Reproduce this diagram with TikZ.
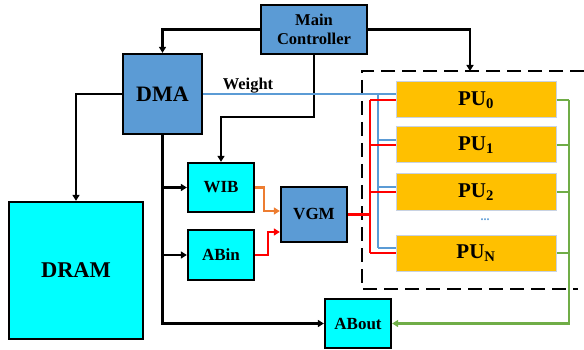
\documentclass[tikz,border=0pt]{standalone}
\usepackage{fontspec}
\setmainfont{Liberation Serif}
\usepackage{tikz}
\usetikzlibrary{calc,arrows.meta}
\definecolor{blockblue}{HTML}{5B9BD5}
\definecolor{bufcyan}{HTML}{00FFFF}
\definecolor{puorange}{HTML}{FFC000}
\definecolor{puedge}{HTML}{C8D2E2}
\definecolor{wirered}{HTML}{FF0000}
\definecolor{wiregreen}{HTML}{70AD47}
\definecolor{wireorange}{HTML}{ED7D31}

\tikzset{
	block/.style={draw, line width=2.3pt, inner sep=0pt, align=center, font=\bfseries},
	wire/.style={line width=2.5pt, -{Triangle[length=6pt,width=7pt]}},
	bus/.style={line width=2.4pt},
	pubox/.style={draw=puedge, line width=1pt, fill=puorange, inner sep=0pt,
		minimum width=160pt, minimum height=36pt, font=\bfseries\fontsize{21}{23}\selectfont},
}

\begin{document}
\begin{tikzpicture}[x=1pt,y=-1pt]

% canvas %{{{2

	\useasboundingbox (0,0) rectangle (584,350);

% blocks %{{{2

	\node[block, fill=blockblue, minimum width=106pt, minimum height=49pt,
		font=\bfseries\fontsize{16.5}{19.5}\selectfont] (mc) at (314,29.5) {Main\\Controller};
	\node[block, fill=blockblue, minimum width=79pt, minimum height=80pt,
		font=\bfseries\fontsize{22}{24}\selectfont] (dma) at (162.5,94) {DMA};
	\node[block, fill=bufcyan, minimum width=134pt, minimum height=137pt,
		font=\bfseries\fontsize{22.5}{24}\selectfont] (dram) at (76,270.5) {DRAM};
	\node[block, fill=bufcyan, minimum width=66pt, minimum height=49pt,
		font=\bfseries\fontsize{17}{19}\selectfont] (wib) at (221,187.5) {WIB};
	\node[block, fill=bufcyan, minimum width=66pt, minimum height=50pt,
		font=\bfseries\fontsize{17}{19}\selectfont] (abin) at (221,255) {ABin};
	\node[block, fill=blockblue, minimum width=66pt, minimum height=55pt,
		font=\bfseries\fontsize{17}{19}\selectfont] (vgm) at (314,214.5) {VGM};
	\node[block, fill=bufcyan, minimum width=66pt, minimum height=49pt,
		font=\bfseries\fontsize{17}{19}\selectfont] (about) at (358,323.5) {ABout};

% processing units %{{{2

	\foreach \i/\y/\t in {0/100/0, 1/145/1, 2/192/2, 3/253/N} {
		\node[pubox] (pu\i) at (476,\y) {PU\textsubscript{\t}};
	}
	\node[text=blockblue, font=\bfseries\fontsize{12}{14}\selectfont] (dots) at (485,220) {...};

% frame %{{{2

	\coordinate (frameTR) at (584,71);
	\coordinate (frameTL) at (362,71);
	\coordinate (frameBL) at (362,289);
	\coordinate (frameBR) at (578,289);
	\coordinate (frameIn) at (470,71);
	\draw[line width=2.2pt, dash pattern=on 14pt off 7pt] (frameTR) -- (frameTL) -- (frameBL) -- (frameBR);

% control lines %{{{2

	\coordinate (mcTurn) at (314,117);

	\draw[wire] (mc.west) -| (dma.north);
	\draw[wire] (mc.east) -| (frameIn);
	\draw[wire] (mc.south) -- (mcTurn) -| (wib.north);

% dma lines %{{{2

	\draw[wire] (dma.west) -| (dram.north);
	\draw[wire] (dma.south) |- (about.west);
	\draw[wire] (dma.south |- wib.west) -- (wib.west);
	\draw[wire] (dma.south |- abin.west) -- (abin.west);

% buffers to vgm %{{{2

	\coordinate (vgmA) at ([yshift=3.5pt]vgm.west);
	\coordinate (vgmB) at ([yshift=-17.5pt]vgm.west);

	\draw[wire, wireorange] (wib.east) -- ++(9,0) |- (vgmA);
	\draw[wire, wirered] (abin.east) -- ++(13,0) |- (vgmB);

% weight bus %{{{2

	\draw[bus, blockblue] (dma.east) -- (dma.east -| pu0.west);
	\node[font=\bfseries\fontsize{16.5}{18}\selectfont, above, inner sep=1pt] (weight) at (248,94) {Weight};

	\draw[bus, blockblue] (378,94) -- (378,248);
	\foreach \i in {1,2,3} {
		\draw[bus, blockblue] ([yshift=5pt]pu\i.west -| 378,0) -- ([yshift=5pt]pu\i.west);
	}

% vgm bus %{{{2

	\draw[bus, wirered] (vgm.east) -- (vgm.east -| 370,0);
	\draw[bus, wirered] (pu0.west -| 370,0) -- (pu3.west -| 370,0);
	\foreach \i in {0,1,2,3} {
		\draw[bus, wirered] (pu\i.west -| 370,0) -- (pu\i.west);
	}

% output bus %{{{2

	\coordinate (outTurn) at (569,323.5);

	\foreach \i in {0,1,2,3} {
		\draw[bus, wiregreen] (pu\i.east) -- (pu\i.east -| outTurn);
	}
	\draw[wire, wiregreen] (pu0.east -| outTurn) -- (outTurn) -- (about.east);

% closing %{{{2

\end{tikzpicture}
\end{document}
